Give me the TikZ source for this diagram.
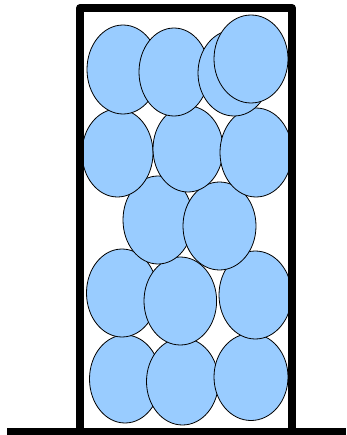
\documentclass[tikz,border=0pt]{standalone}
\definecolor{BallBlue}{RGB}{153,204,255}
\begin{document}
\begin{tikzpicture}[x=1pt, y=-1pt,
    ball/.style={draw=black, fill=BallBlue, line width=0.8pt},
    wall/.style={draw=black, line width=8pt, line join=round}]
                \useasboundingbox (0,0) rectangle (346,435);

                % Balls, bottom row first so upper rows lie on top
                \foreach \cx/\cy/\rx/\ry in {125/379/35.5/44, 182.5/381.5/36/43.5, 251/377/37/43.5,
                                             122/293/35.5/44, 180.3/301/36.3/44, 255.3/295/36.3/44,
                                             158/220/35/44, 219.5/226/36.5/44,
                                             117.5/153/35.5/44, 188/149/35/43, 256/152.5/36/44.5,
                                             123/69.5/36/44.5, 174/72/35/44, 234/73/36/43, 251/59/37/44}
                    \draw[ball] (\cx,\cy) ellipse [x radius=\rx, y radius=\ry];

                % Container walls
                \draw[wall] (80,431) -- (80,8) -- (292,8) -- (292,431);

                % Floor
                \draw[wall] (7,431.5) -- (346,431.5);
\end{tikzpicture}
\end{document}
